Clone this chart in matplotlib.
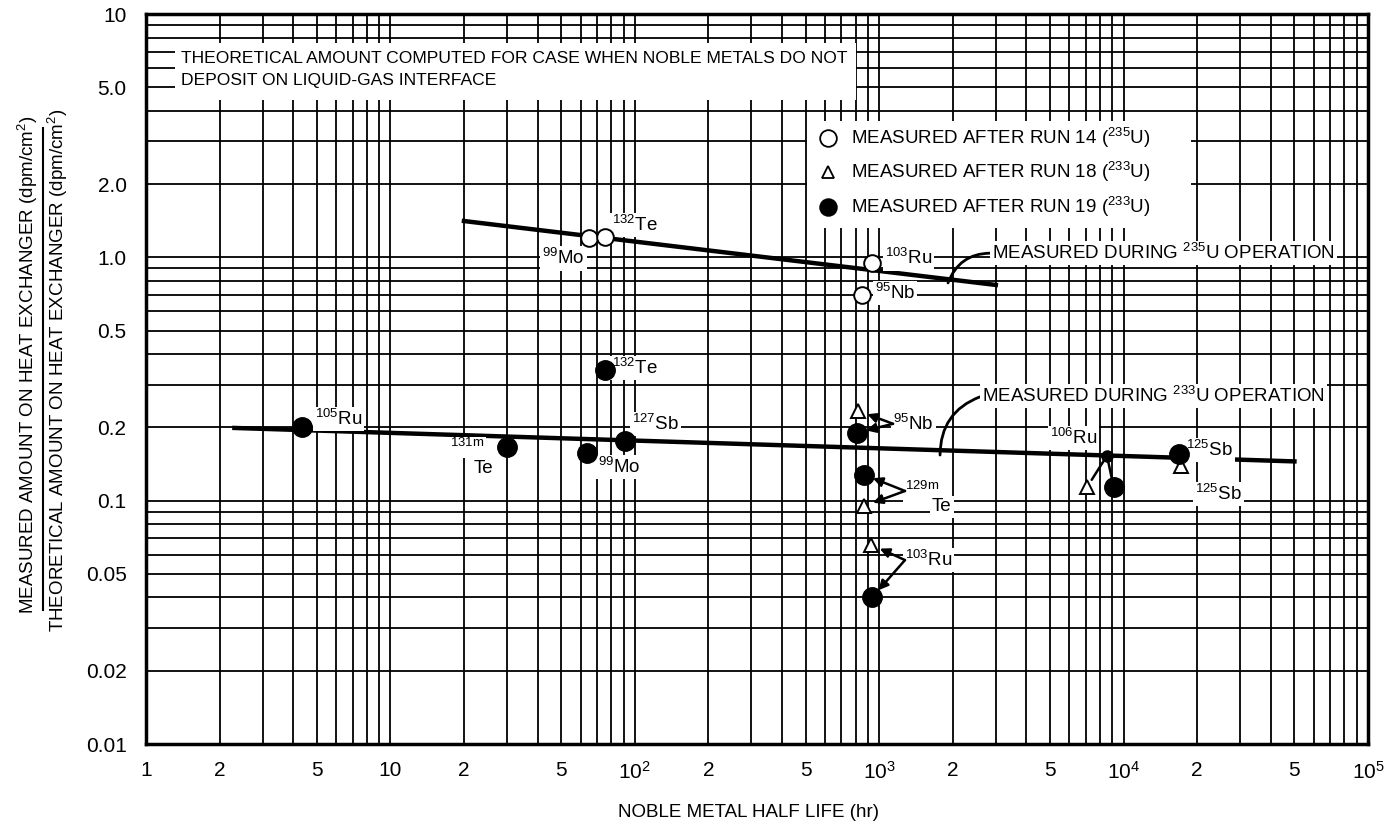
import matplotlib
matplotlib.use("Agg")
import matplotlib.pyplot as plt
from matplotlib.patches import Rectangle
from matplotlib.lines import Line2D
from matplotlib.ticker import FixedLocator, LogLocator, NullFormatter

# ---- data ---------------------------------------------------------------
# run 14 (235U), open circles
nuc14 = ["99Mo", "132Te", "103Ru", "95Nb"]
x14 = [65, 75.5, 935, 850]
y14 = [1.20, 1.21, 0.95, 0.70]

# run 18 (233U), open triangles
nuc18 = ["95Nb", "129mTe", "103Ru", "106Ru", "125Sb"]
x18 = [820, 865, 925, 7100, 17200]
y18 = [0.234, 0.095, 0.066, 0.114, 0.139]

# run 19 (233U), filled circles
nuc19 = ["105Ru", "131mTe", "99Mo", "127Sb", "132Te", "95Nb", "129mTe", "103Ru", "106Ru", "125Sb"]
x19 = [4.35, 30, 64, 91, 75.5, 810, 865, 935, 9100, 16900]
y19 = [0.201, 0.166, 0.157, 0.176, 0.345, 0.190, 0.128, 0.040, 0.114, 0.155]

# fitted trend lines
fit235_x = [20, 3000]
fit235_y = [1.41, 0.77]
fit233_x = [2.3, 50000]
fit233_y = [0.199, 0.145]

ru106_junction = (8550, 0.153)

xtick_vals = [1, 2, 5, 10, 20, 50, 100, 200, 500, 1e3, 2e3, 5e3, 1e4, 2e4, 5e4, 1e5]
xtick_labels = ["1", "2", "5", "10", "2", "5", r"$10^2$", "2", "5", r"$10^3$",
                "2", "5", r"$10^4$", "2", "5", r"$10^5$"]
ytick_vals = [10, 5, 2, 1, 0.5, 0.2, 0.1, 0.05, 0.02, 0.01]
ytick_labels = ["10", "5.0", "2.0", "1.0", "0.5", "0.2", "0.1", "0.05", "0.02", "0.01"]

# ---- fonts --------------------------------------------------------------
family = "Liberation Sans"
plt.rcParams["font.family"] = [family, "DejaVu Sans"]
plt.rcParams["mathtext.fontset"] = "custom"
plt.rcParams["mathtext.rm"] = family
plt.rcParams["mathtext.it"] = family
plt.rcParams["mathtext.bf"] = family

fig = plt.figure(figsize=(13.94, 8.30), dpi=100)
ax = fig.add_axes([146 / 1394, 1 - 744 / 830, 1222 / 1394, 730 / 830])
ax.set_xscale("log")
ax.set_yscale("log")
ax.set_xlim(1, 1e5)
ax.set_ylim(0.01, 10)

# graph-paper grid
ax.xaxis.set_minor_locator(LogLocator(base=10, subs=range(2, 10)))
ax.yaxis.set_minor_locator(LogLocator(base=10, subs=range(2, 10)))
ax.xaxis.set_minor_formatter(NullFormatter())
ax.yaxis.set_minor_formatter(NullFormatter())
ax.grid(True, which="both", color="black", linewidth=1.3, zorder=0)
ax.set_axisbelow(True)

ax.xaxis.set_major_locator(FixedLocator(xtick_vals))
ax.set_xticklabels(xtick_labels)
ax.yaxis.set_major_locator(FixedLocator(ytick_vals))
ax.set_yticklabels(ytick_labels)
ax.tick_params(which="both", length=0, labelsize=15)
ax.tick_params(axis="x", pad=12)
ax.tick_params(axis="y", pad=14)
for sp in ax.spines.values():
    sp.set_linewidth(2.5)

W = dict(facecolor="white", edgecolor="none", pad=1.5)
fs = 13.5

# white patches that cut the grid for the boxed notes
ax.add_patch(Rectangle((0.024, 0.882), 0.557, 0.078, transform=ax.transAxes,
                       facecolor="white", edgecolor="none", zorder=1))
ax.add_patch(Rectangle((0.541, 0.707), 0.314, 0.146, transform=ax.transAxes,
                       facecolor="white", edgecolor="none", zorder=1))

ax.text(0.029, 0.950,
        "THEORETICAL AMOUNT COMPUTED FOR CASE WHEN NOBLE METALS DO NOT\n"
        "DEPOSIT ON LIQUID-GAS INTERFACE",
        transform=ax.transAxes, ha="left", va="top", fontsize=12.6, linespacing=1.65, zorder=3)

# trend lines
ax.plot(fit235_x, fit235_y, color="black", linewidth=3.2, zorder=3)
ax.plot(fit233_x, fit233_y, color="black", linewidth=3.2, zorder=3)

# measurements
ax.plot(x14, y14, "o", ms=12, mfc="white", mec="black", mew=1.4, ls="none", zorder=5)
ax.plot(x18, y18, "^", ms=10, mfc="white", mec="black", mew=1.4, ls="none", zorder=5)
ax.plot(x19, y19, "o", ms=14, mfc="black", mec="black", ls="none", zorder=6)

# legend as in the original: markers + text
leg_x, leg_tx = 617, 770
for yy, mk, fc, txt in [(3.10, "o", "white", r"MEASURED AFTER RUN 14 ($^{235}$U)"),
                        (2.24, "^", "white", r"MEASURED AFTER RUN 18 ($^{233}$U)"),
                        (1.61, "o", "black", r"MEASURED AFTER RUN 19 ($^{233}$U)")]:
    ax.plot([leg_x], [yy], mk, ms=12 if mk == "o" else 9, mfc=fc, mec="black", mew=1.3, zorder=5)
    ax.text(leg_tx, yy, txt, ha="left", va="center", fontsize=fs, zorder=5)

# operation labels with curved leaders
lead = dict(arrowstyle="-", lw=2.0, color="black", relpos=(0, 0.5),
            connectionstyle="arc3,rad=0.35", shrinkA=0, shrinkB=0)
ax.annotate(r"MEASURED DURING $^{235}$U OPERATION", xy=(1912, 0.785), xytext=(2894, 1.04),
            ha="left", va="center", fontsize=fs, bbox=W, zorder=6, arrowprops=lead)
ax.annotate(r"MEASURED DURING $^{233}$U OPERATION", xy=(1774, 0.154), xytext=(2634, 0.269),
            ha="left", va="center", fontsize=fs, bbox=W, zorder=6, arrowprops=lead)

# nuclide labels
def lab(x, y, s, ha="left"):
    ax.text(x, y, s, ha=ha, va="center", fontsize=fs, bbox=W, zorder=4)

lab(80.7, 1.36, r"$^{132}$Te")
lab(62.5, 0.99, r"$^{99}$Mo", ha="right")
lab(1056, 0.99, r"$^{103}$Ru")
lab(961, 0.714, r"$^{95}$Nb")
lab(80.7, 0.351, r"$^{132}$Te")
lab(97.4, 0.207, r"$^{127}$Sb")
lab(4.92, 0.217, r"$^{105}$Ru")
lab(24.2, 0.165, r"$^{131m}$", ha="right")
lab(22.0, 0.136, "Te")
lab(70.7, 0.1375, r"$^{99}$Mo")
lab(18000, 0.162, r"$^{125}$Sb")
lab(19600, 0.1065, r"$^{125}$Sb")
lab(5000, 0.181, r"$^{106}$Ru")
lab(1139, 0.207, r"$^{95}$Nb")
lab(1275, 0.1096, r"$^{129m}$")
lab(1644, 0.0942, "Te")
lab(1275, 0.057, r"$^{103}$Ru")

# leaders from grouped labels to their markers
arrow = dict(arrowstyle="-|>", lw=1.8, color="black", mutation_scale=14, shrinkA=0, shrinkB=7)
groups = [((1139, 0.207), [(x18[0], y18[0]), (x19[5], y19[5])]),
          ((1275, 0.1096), [(x19[6], y19[6]), (x18[1], y18[1])]),
          ((1275, 0.057), [(x18[2], y18[2]), (x19[7], y19[7])])]
for start, targets in groups:
    for tgt in targets:
        ax.annotate("", xy=tgt, xytext=start, arrowprops=arrow, zorder=4)

ax.plot(*ru106_junction, "o", ms=8, color="black", zorder=6)
for tgt in [(x18[3], y18[3]), (x19[8], y19[8])]:
    ax.annotate("", xy=tgt, xytext=ru106_junction,
                arrowprops=dict(arrowstyle="-", lw=1.8, color="black", shrinkA=0, shrinkB=6),
                zorder=4)

# axis titles
fig.text(748 / 1394, 1 - 812 / 830, "NOBLE METAL HALF LIFE (hr)", ha="center", va="center", fontsize=fs)
fig.text(28 / 1394, 1 - 365 / 830, r"MEASURED AMOUNT ON HEAT EXCHANGER (dpm/cm$^2$)",
         rotation=90, ha="center", va="center", fontsize=fs)
fig.text(58 / 1394, 1 - 370 / 830, r"THEORETICAL AMOUNT ON HEAT EXCHANGER (dpm/cm$^2$)",
         rotation=90, ha="center", va="center", fontsize=fs)
fig.add_artist(Line2D([43 / 1394, 43 / 1394], [1 - 610 / 830, 1 - 128 / 830],
                      transform=fig.transFigure, color="black", lw=1.5))

fig.savefig("out.png", dpi=100)
